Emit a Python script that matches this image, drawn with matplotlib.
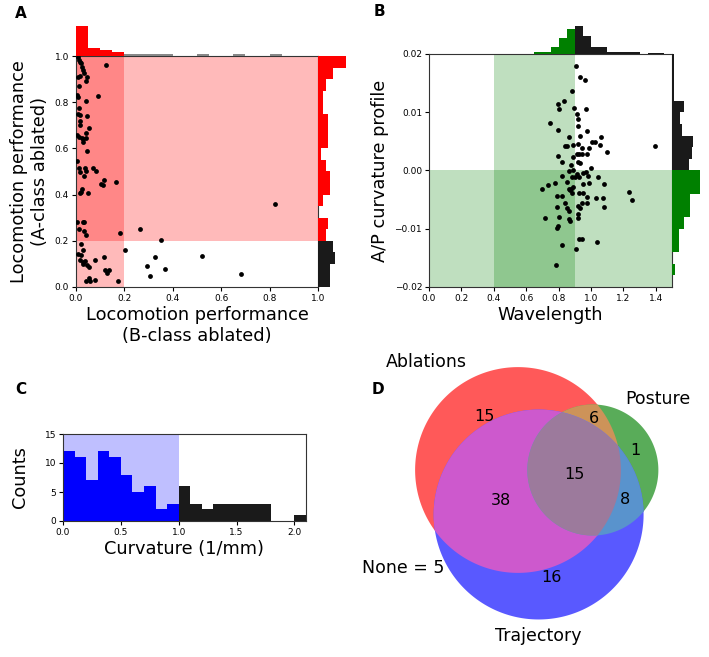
import numpy as np
import matplotlib
matplotlib.use('Agg')
import matplotlib.pyplot as plt
from matplotlib.patches import Polygon

# ---------------- data ----------------
# A: locomotion performance with B-class (x) / A-class (y) neurons ablated
abl_b = [0.010, 0.014, 0.017, 0.020, 0.124, 0.026, 0.030, 0.033, 0.017, 0.010,
         0.047, 0.040, 0.012, 0.006, 0.010, 0.091, 0.041, 0.014, 0.010, 0.017,
         0.047, 0.017, 0.017, 0.055, 0.040, 0.003, 0.012, 0.023, 0.030, 0.040,
         0.028, 0.047, 0.003, 0.012, 0.037, 0.072, 0.017, 0.041, 0.081, 0.033,
         0.103, 0.113, 0.117, 0.165, 0.023, 0.019, 0.017, 0.050, 0.821, 0.006,
         0.028, 0.033, 0.012, 0.033, 0.041, 0.182, 0.264, 0.352, 0.019, 0.030,
         0.010, 0.019, 0.204, 0.017, 0.037, 0.030, 0.078, 0.116, 0.327, 0.519,
         0.047, 0.055, 0.292, 0.366, 0.121, 0.138, 0.129, 0.052, 0.041, 0.058,
         0.078, 0.173, 0.305, 0.680, 0.028]
abl_a = [0.995, 0.983, 0.974, 0.968, 0.961, 0.954, 0.939, 0.928, 0.913, 0.908,
         0.908, 0.892, 0.870, 0.831, 0.824, 0.828, 0.806, 0.773, 0.751, 0.744,
         0.742, 0.720, 0.701, 0.689, 0.668, 0.658, 0.650, 0.646, 0.639, 0.643,
         0.629, 0.588, 0.545, 0.513, 0.513, 0.516, 0.497, 0.503, 0.501, 0.480,
         0.448, 0.441, 0.462, 0.455, 0.426, 0.412, 0.405, 0.405, 0.361, 0.282,
         0.282, 0.282, 0.253, 0.241, 0.223, 0.234, 0.253, 0.202, 0.188, 0.159,
         0.142, 0.140, 0.159, 0.118, 0.113, 0.108, 0.118, 0.130, 0.130, 0.133,
         0.097, 0.087, 0.090, 0.079, 0.075, 0.072, 0.061, 0.040, 0.025, 0.025,
         0.032, 0.025, 0.048, 0.058, 0.100]
a_top_red = [16, 4, 3, 2]                                      # x in 0.0-0.2
a_top_black = [1, 1, 1, 1, 0, 0, 1, 0, 0, 1, 0, 0, 1, 0, 0, 0]  # x in 0.2-1.0
a_right_black = [7, 7, 10, 9]                                  # y in 0.0-0.2
a_right_red = [5, 6, 0, 3, 7, 7, 5, 2, 6, 6, 6, 3, 3, 5, 9, 17]  # y in 0.2-1.0

# B: wavelength vs A/P curvature profile
wavelength = [0.907, 0.932, 0.963, 0.881, 0.833, 0.796, 0.805, 0.897, 0.969, 0.912,
              0.922, 0.747, 0.918, 0.798, 0.973, 0.864, 0.932, 1.062, 0.840, 0.850,
              0.887, 0.922, 1.004, 1.025, 1.056, 0.990, 1.397, 0.947, 1.097, 0.914,
              0.928, 0.942, 0.973, 0.798, 0.887, 0.821, 0.920, 0.932, 1.000, 0.874,
              0.967, 0.953, 0.864, 0.891, 0.912, 0.928, 0.821, 0.979, 0.901, 0.881,
              1.043, 0.986, 0.949, 0.854, 0.778, 0.737, 1.080, 0.698, 0.864, 0.874,
              0.887, 0.883, 0.868, 0.926, 0.792, 0.821, 0.949, 0.973, 1.031, 1.076,
              1.233, 1.255, 0.840, 0.947, 0.973, 1.082, 0.920, 0.788, 0.850, 0.932,
              0.862, 0.920, 0.716, 0.805, 0.864, 0.870, 0.920, 0.796, 0.792, 0.928,
              0.947, 1.035, 0.821, 0.905, 0.782]
ap_curv = [0.0180, 0.0160, 0.0155, 0.0137, 0.0119, 0.0114, 0.0106, 0.0108, 0.0106, 0.0097,
           0.0089, 0.0082, 0.0077, 0.0070, 0.0067, 0.0058, 0.0060, 0.0057, 0.0042, 0.0042,
           0.0043, 0.0045, 0.0049, 0.0049, 0.0043, 0.0038, 0.0042, 0.0039, 0.0031, 0.0029,
           0.0028, 0.0029, 0.0028, 0.0025, 0.0024, 0.0015, 0.0015, 0.0013, 0.0005, 0.0009,
           -0.0003, -0.0005, -0.0001, 0.0000, -0.0006, -0.0011, -0.0009, -0.0010, -0.0011, -0.0012,
           -0.0012, -0.0021, -0.0024, -0.0020, -0.0021, -0.0025, -0.0023, -0.0031, -0.0031, -0.0032,
           -0.0029, -0.0038, -0.0034, -0.0038, -0.0043, -0.0044, -0.0038, -0.0046, -0.0048, -0.0048,
           -0.0037, -0.0051, -0.0055, -0.0055, -0.0055, -0.0062, -0.0061, -0.0062, -0.0064, -0.0064,
           -0.0069, -0.0074, -0.0082, -0.0079, -0.0083, -0.0086, -0.0081, -0.0095, -0.0099, -0.0117,
           -0.0118, -0.0122, -0.0128, -0.0134, -0.0163]
b_top_green = [1, 1, 3, 7, 11]                            # wavelength 0.65-0.90
b_top_black = [12, 8, 3, 3, 1, 1, 1, 1, 0, 0.4, 0.4]      # wavelength 0.90-1.45
b_right_green = [2, 0, 4, 4, 7, 11, 11, 17, 17]           # curvature -0.018-0.000
b_right_black = [10, 12, 13, 6, 5, 7, 1, 1, 1, 1]         # curvature 0.000-0.020

# C: curvature histogram
curv_blue = [12, 11, 7, 12, 11, 8, 5, 6, 2, 3]            # 0.0-1.0
curv_black = [6, 3, 2, 3, 3, 3, 3, 3, 0, 0, 1]            # 1.0-2.1

# D: Venn diagram (A=Ablations, B=Posture, C=Trajectory)
venn_names = ['Ablations', 'Posture', 'Trajectory']
venn_subsets = {'100': 15, '010': 1, '110': 6, '001': 16,
                '101': 38, '011': 8, '111': 15}
venn_none = 5

# ---------------- style ----------------
plt.rcParams['font.family'] = ['DejaVu Sans']
plt.rcParams['xtick.labelsize'] = 6.5
plt.rcParams['ytick.labelsize'] = 6.5
plt.rcParams['xtick.major.size'] = 3
plt.rcParams['ytick.major.size'] = 3
plt.rcParams['xtick.major.pad'] = 2
plt.rcParams['ytick.major.pad'] = 2
plt.rcParams['axes.linewidth'] = 0.8
plt.rcParams['axes.edgecolor'] = '#333333'

W, H = 709, 657
fig = plt.figure(figsize=(W / 100, H / 100), dpi=100)


def px_axes(x0, y0, x1, y1):
    # axes from pixel box (top-left origin)
    return fig.add_axes([x0 / W, 1 - y1 / H, (x1 - x0) / W, (y1 - y0) / H])


BLACK = '#1a1a1a'
LABEL_FS = 12.8
DOT = 12

# ---------------- panel A ----------------
axA = px_axes(76, 56, 318, 287)
axA.axvspan(0, 0.2, color='r', alpha=0.27, lw=0)
axA.axhspan(0.2, 1.0, color='r', alpha=0.27, lw=0)
axA.scatter(abl_b, abl_a, s=DOT, color='k', lw=0, zorder=3)
axA.set_xlim(0, 1)
axA.set_ylim(0, 1)
axA.set_xticks(np.arange(0, 1.01, 0.2))
axA.set_yticks(np.arange(0, 1.01, 0.2))
axA.set_xlabel('Locomotion performance\n(B-class ablated)', fontsize=LABEL_FS, labelpad=2)
axA.set_ylabel('Locomotion performance\n(A-class ablated)', fontsize=LABEL_FS, labelpad=4)

a_edges = np.round(np.arange(0, 1.0001, 0.05), 3)
axAt = px_axes(76, 20, 318, 56)
axAt.bar(a_edges[:4], a_top_red, width=0.05, align='edge', color='r', lw=0)
axAt.bar(a_edges[4:-1], a_top_black, width=0.05, align='edge', color='#888888', lw=0)
axAt.set_xlim(0, 1)
axAt.set_ylim(0, 36 / 1.9)
axAt.axis('off')

axAr = px_axes(318, 56, 384, 287)
axAr.barh(a_edges[:4], a_right_black, height=0.05, align='edge', color=BLACK, lw=0)
axAr.barh(a_edges[4:-1], a_right_red, height=0.05, align='edge', color='r', lw=0)
axAr.set_ylim(0, 1)
axAr.set_xlim(0, 66 / 1.67)
axAr.axis('off')

# ---------------- panel B ----------------
axB = px_axes(429, 54, 672, 287)
axB.axvspan(0.4, 0.9, color='g', alpha=0.25, lw=0)
axB.axhspan(-0.02, 0.0, color='g', alpha=0.25, lw=0)
axB.scatter(wavelength, ap_curv, s=DOT, color='k', lw=0, zorder=3)
axB.set_xlim(0, 1.5)
axB.set_ylim(-0.02, 0.02)
axB.set_xticks(np.round(np.arange(0, 1.41, 0.2), 1))
axB.set_yticks([-0.02, -0.01, 0.0, 0.01, 0.02])
axB.set_yticklabels(['\u22120.02', '\u22120.01', '0.00', '0.01', '0.02'])
axB.set_xlabel('Wavelength', fontsize=LABEL_FS, labelpad=2)
axB.set_ylabel('A/P curvature profile', fontsize=LABEL_FS, labelpad=4)

bt_edges = np.round(np.arange(0.65, 1.4501, 0.05), 3)
axBt = px_axes(429, 20, 672, 54)
axBt.bar(bt_edges[:5], b_top_green, width=0.05, align='edge', color='g', lw=0)
axBt.bar(bt_edges[5:-1], b_top_black, width=0.05, align='edge', color=BLACK, lw=0)
axBt.set_xlim(0, 1.5)
axBt.set_ylim(0, 34 / 2.3)
axBt.axis('off')

br_edges = np.round(np.arange(-0.018, 0.02001, 0.002), 4)
axBr = px_axes(672, 54, 709, 287)
axBr.barh(br_edges[:9], b_right_green, height=0.002, align='edge', color='g', lw=0)
axBr.barh(br_edges[9:-1], b_right_black, height=0.002, align='edge', color=BLACK, lw=0)
axBr.set_ylim(-0.02, 0.02)
axBr.set_xlim(0, 37 / 1.65)
axBr.axis('off')

# ---------------- panel C ----------------
axC = px_axes(63, 434, 306, 521)
axC.axvspan(0, 1.0, color='b', alpha=0.25, lw=0)
c_edges = np.round(np.arange(0, 2.1001, 0.1), 2)
axC.bar(c_edges[:10], curv_blue, width=0.1, align='edge', color='b', lw=0)
axC.bar(c_edges[10:-1], curv_black, width=0.1, align='edge', color=BLACK, lw=0)
axC.set_xlim(0, 2.1)
axC.set_ylim(0, 15)
axC.set_xticks([0.0, 0.5, 1.0, 1.5, 2.0])
axC.set_yticks([0, 5, 10, 15])
axC.set_xlabel('Curvature (1/mm)', fontsize=LABEL_FS, labelpad=2)
axC.set_ylabel('Counts', fontsize=LABEL_FS, labelpad=11)

# ---------------- panel D: area-proportional Venn ----------------
def lens_area(r1, r2, d):
    if d >= r1 + r2:
        return 0.0
    if d <= abs(r1 - r2):
        return np.pi * min(r1, r2) ** 2
    a1 = r1 ** 2 * np.arccos((d * d + r1 * r1 - r2 * r2) / (2 * d * r1))
    a2 = r2 ** 2 * np.arccos((d * d + r2 * r2 - r1 * r1) / (2 * d * r2))
    a3 = 0.5 * np.sqrt((-d + r1 + r2) * (d + r1 - r2) * (d - r1 + r2) * (d + r1 + r2))
    return a1 + a2 - a3


def solve_dist(r1, r2, target):
    lo, hi = abs(r1 - r2), r1 + r2
    for _ in range(60):
        mid = 0.5 * (lo + hi)
        if lens_area(r1, r2, mid) > target:
            lo = mid
        else:
            hi = mid
    return 0.5 * (lo + hi)


def set_total(i):
    return sum(v for k, v in venn_subsets.items() if k[i] == '1')


def pair_total(i, j):
    return sum(v for k, v in venn_subsets.items() if k[i] == '1' and k[j] == '1')


radii = [np.sqrt(set_total(i) / np.pi) for i in range(3)]
dAB = solve_dist(radii[0], radii[1], pair_total(0, 1))
dAC = solve_dist(radii[0], radii[2], pair_total(0, 2))
dBC = solve_dist(radii[1], radii[2], pair_total(1, 2))
cx = (dAB ** 2 + dAC ** 2 - dBC ** 2) / (2 * dAB)
centers = [np.array([0.0, 0.0]), np.array([dAB, 0.0]),
           np.array([cx, -np.sqrt(max(dAC ** 2 - cx ** 2, 0))])]


def circle_poly(c, r, n=300):
    t = np.linspace(0, 2 * np.pi, n, endpoint=False)
    return np.column_stack([c[0] + r * np.cos(t), c[1] + r * np.sin(t)])


def clip_convex(subject, clipper):
    out = [tuple(p) for p in subject]
    m = len(clipper)
    for i in range(m):
        ax_, ay_ = clipper[i]
        bx_, by_ = clipper[(i + 1) % m]
        inp, out = out, []
        if not inp:
            break
        side = [(bx_ - ax_) * (p[1] - ay_) - (by_ - ay_) * (p[0] - ax_) for p in inp]
        s, ss = inp[-1], side[-1]
        for e, se in zip(inp, side):
            if se >= 0:
                if ss < 0:
                    t = ss / (ss - se)
                    out.append((s[0] + t * (e[0] - s[0]), s[1] + t * (e[1] - s[1])))
                out.append(e)
            elif ss >= 0:
                t = ss / (ss - se)
                out.append((s[0] + t * (e[0] - s[0]), s[1] + t * (e[1] - s[1])))
            s, ss = e, se
    return np.array(out)


base_cols = [np.array(matplotlib.colors.to_rgb(c)) for c in ('r', 'g', 'b')]
alpha = 0.65


def region_color(idx):
    cols = [base_cols[i] for i in idx]
    if len(cols) == 1:
        mix = cols[0]
    elif len(cols) == 2:
        mix = 0.7 * (cols[0] + cols[1])
    else:
        mix = 0.4 * (cols[0] + cols[1] + cols[2])
    mix = np.minimum(mix, 1.0)
    return 1 - alpha * (1 - mix)   # pre-blended over white


px_per_unit = 21.2
axD = px_axes(355, 335, 709, 657)
a_px = (518, 470)
axD.set_xlim((355 - a_px[0]) / px_per_unit, (709 - a_px[0]) / px_per_unit)
axD.set_ylim((a_px[1] - 657) / px_per_unit, (a_px[1] - 335) / px_per_unit)
axD.axis('off')

polys = [circle_poly(centers[i], radii[i]) for i in range(3)]
for i in range(3):
    axD.add_patch(Polygon(polys[i], closed=True, fc=region_color([i]), lw=0))
for i, j in [(0, 1), (0, 2), (1, 2)]:
    axD.add_patch(Polygon(clip_convex(polys[i], polys[j]), closed=True,
                          fc=region_color([i, j]), lw=0))
triple = clip_convex(clip_convex(polys[0], polys[1]), polys[2])
axD.add_patch(Polygon(triple, closed=True, fc=region_color([0, 1, 2]), lw=0))

# region counts at region centroids
gx, gy = np.meshgrid(np.linspace(-6, 8, 500), np.linspace(-8, 6, 500))
inside = [(gx - c[0]) ** 2 + (gy - c[1]) ** 2 <= r ** 2 for c, r in zip(centers, radii)]
for key, val in venn_subsets.items():
    mask = np.ones_like(gx, dtype=bool)
    for i, ch in enumerate(key):
        mask &= inside[i] if ch == '1' else ~inside[i]
    axD.text(gx[mask].mean(), gy[mask].mean(), str(val), fontsize=11.5,
             ha='center', va='center')

axD.text(centers[0][0] - radii[0] / 2, centers[0][1] + radii[0], venn_names[0],
         fontsize=12.5, ha='right', va='baseline')
axD.text(centers[1][0] + radii[1] / 2, centers[1][1] + radii[1], venn_names[1],
         fontsize=12.5, ha='left', va='baseline')
axD.text(centers[2][0], centers[2][1] - radii[2] - 0.35, venn_names[2],
         fontsize=12.5, ha='center', va='top')
axD.text(-5.4, -4.6, 'None = %d' % venn_none, fontsize=12.5, ha='center', va='center')

# ---------------- panel letters ----------------
for letter, (x, y) in zip('ABCD', [(21, 14), (379, 12), (21, 390), (378, 390)]):
    fig.text(x / W, 1 - y / H, letter, fontsize=11, fontweight='bold',
             ha='center', va='center')

fig.savefig('out.png', dpi=100)
plt.close(fig)
